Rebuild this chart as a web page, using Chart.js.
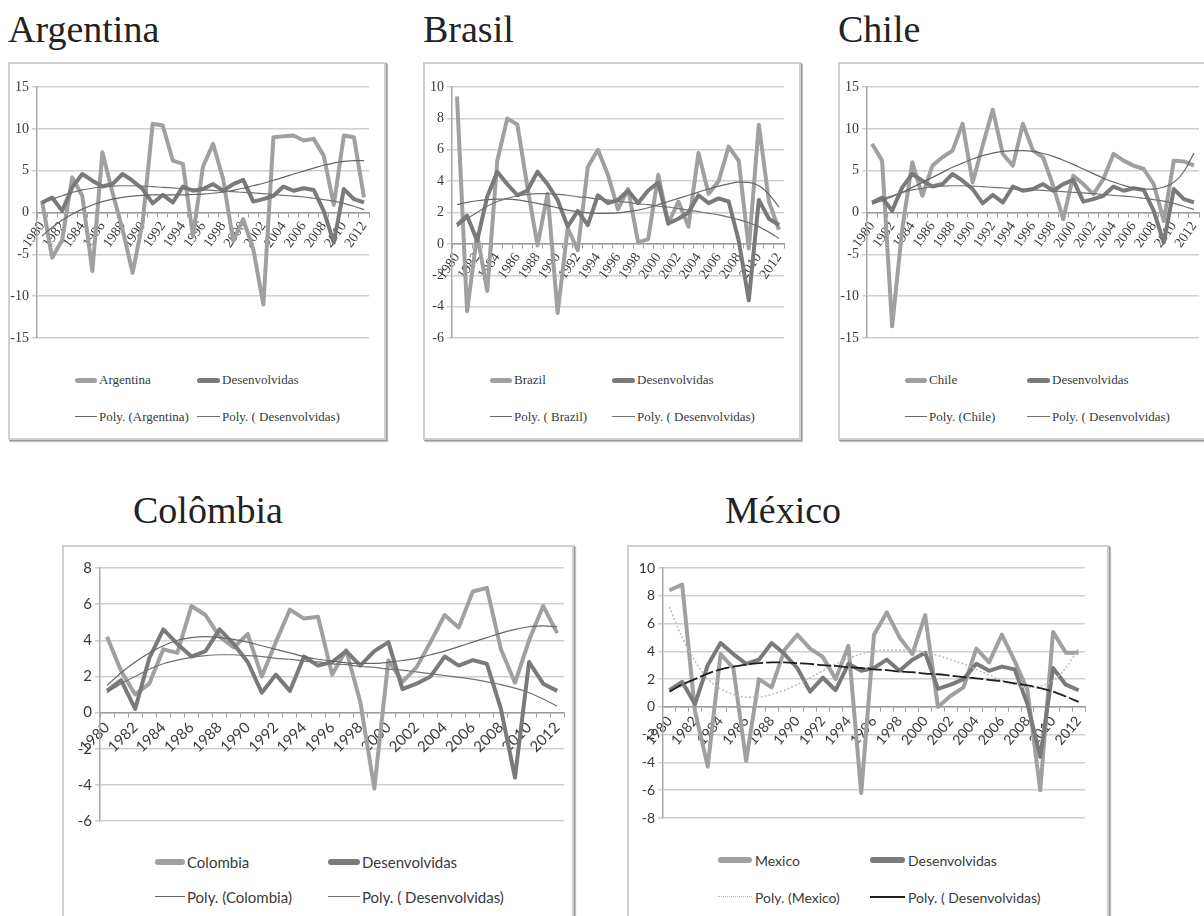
<!DOCTYPE html>
<html><head><meta charset="utf-8">
<script src="https://cdn.jsdelivr.net/npm/chart.js@4"></script>
<style>
body{margin:0;width:1204px;height:916px;overflow:hidden;background:#fff;position:relative;}
.title{position:absolute;font-family:'Liberation Serif',serif;font-size:38px;color:#222;line-height:38px;white-space:nowrap;}
.box{position:absolute;box-sizing:border-box;border:2px solid #cfcfcf;box-shadow:1px 1px 0 #9a9a9a,2px 2px 1px #c0c0c0;background:#fff;}
.box canvas{position:absolute;left:0;top:0;}
.leg{position:absolute;height:20px;margin-top:-10px;display:flex;align-items:center;white-space:nowrap;color:#3a3a3a;}
.mk{position:absolute;}
</style>
</head><body>
<script>
// ---------- data ----------
const years = ['1980','1981','1982','1983','1984','1985','1986','1987','1988','1989','1990','1991','1992','1993','1994','1995','1996','1997','1998','1999','2000','2001','2002','2003','2004','2005','2006','2007','2008','2009','2010','2011','2012'];

const desenvolvidas = [1.2,1.8,0.2,3.0,4.6,3.8,3.1,3.4,4.6,3.8,2.8,1.1,2.1,1.2,3.1,2.6,2.8,3.4,2.6,3.4,3.9,1.3,1.6,2.0,3.1,2.6,2.9,2.7,0.2,-3.6,2.8,1.6,1.2];
const polyDesenvolvidas = [1.1,1.6,2.0,2.4,2.7,2.9,3.05,3.15,3.2,3.2,3.15,3.1,3.0,2.95,2.85,2.8,2.7,2.65,2.55,2.5,2.4,2.35,2.25,2.15,2.05,1.95,1.85,1.7,1.55,1.35,1.1,0.75,0.35];

const argentina = [1.4,-5.4,-3.3,4.2,2.0,-7.0,7.2,2.4,-2.0,-7.2,-1.2,10.6,10.4,6.2,5.8,-2.8,5.5,8.2,4.0,-3.4,-0.8,-4.4,-11.0,9.0,9.1,9.2,8.6,8.8,6.8,0.9,9.2,9.0,1.8];
const polyArgentina = [-2.8,-1.8,-0.9,-0.2,0.4,0.9,1.3,1.6,1.8,1.95,2.05,2.1,2.1,2.1,2.1,2.15,2.2,2.3,2.45,2.65,2.9,3.2,3.5,3.85,4.2,4.6,4.95,5.3,5.65,5.9,6.1,6.2,6.2];

const brasil = [9.4,-4.3,0.6,-3.0,5.3,8.0,7.6,3.6,-0.1,3.2,-4.4,1.0,-0.4,4.9,6.0,4.4,2.2,3.5,0.1,0.3,4.4,1.3,2.7,1.1,5.8,3.2,4.0,6.2,5.3,-0.3,7.6,2.7,0.9];
const polyBrasil = [2.5,2.65,2.75,2.82,2.85,2.85,2.8,2.7,2.58,2.45,2.3,2.15,2.05,1.98,1.95,1.95,1.98,2.05,2.15,2.3,2.5,2.7,2.9,3.1,3.3,3.5,3.68,3.83,3.93,3.92,3.7,3.15,2.35];

const chile = [8.2,6.2,-13.6,-2.0,6.0,2.0,5.6,6.6,7.4,10.6,3.6,8.0,12.3,7.0,5.6,10.6,7.4,6.6,3.2,-0.8,4.4,3.4,2.2,4.0,7.0,6.2,5.6,5.2,3.4,-1.0,6.2,6.1,5.6];
const polyChile = [1.0,1.4,1.9,2.4,3.0,3.6,4.2,4.8,5.4,5.9,6.4,6.8,7.1,7.3,7.4,7.4,7.3,7.05,6.7,6.25,5.75,5.2,4.65,4.1,3.65,3.25,2.95,2.8,2.8,3.05,3.6,4.9,7.1];

const colombia = [4.2,2.3,1.0,1.6,3.5,3.3,5.9,5.4,4.2,3.6,4.35,2.0,3.9,5.7,5.2,5.3,2.1,3.45,0.6,-4.2,2.9,1.7,2.5,3.9,5.4,4.7,6.7,6.9,3.5,1.65,4.0,5.9,4.4];
const polyColombia = [1.5,2.2,2.8,3.3,3.7,4.0,4.15,4.2,4.15,4.05,3.9,3.7,3.5,3.3,3.1,2.95,2.85,2.75,2.72,2.72,2.78,2.88,3.0,3.2,3.4,3.65,3.9,4.15,4.4,4.6,4.75,4.8,4.75];

const mexico = [8.4,8.8,-0.3,-4.3,3.8,2.8,-3.9,2.0,1.4,4.1,5.2,4.2,3.6,2.0,4.4,-6.2,5.2,6.8,5.0,3.8,6.6,0.0,0.8,1.4,4.2,3.2,5.2,3.3,1.2,-6.0,5.4,3.9,3.9];
const polyMexico = [7.2,5.0,3.3,2.0,1.3,0.9,0.7,0.7,0.9,1.2,1.6,2.1,2.6,3.1,3.5,3.8,4.0,4.1,4.1,4.1,3.9,3.7,3.4,3.1,2.7,2.3,1.9,1.6,1.4,1.5,1.9,2.8,4.2];

// ---------- layout / style ----------
const SERIF = "'Liberation Serif', serif";
const SANS = "Lato, 'Open Sans', sans-serif";

const panels = [
  {title:'Argentina', tx:8, ty:10, name:'Argentina', values:argentina, poly:polyArgentina,
   box:[8,62,378,378], cw:374, ch:300, pad:{left:0,top:23,right:15,bottom:26}, yW:27,
   yr:[-15,15,5], font:SERIF, ySize:14, xSize:14, rot:55, legSize:13,
   leg:{r1:316,r2:353,m1:[65,87],t1:89,m2:[187,210],t2:212,thick:5}},
  {title:'Brasil', tx:423, ty:10, name:'Brazil', polyName:'Poly. ( Brazil)', values:brasil, poly:polyBrasil,
   box:[423,62,378,378], cw:374, ch:300, pad:{left:0,top:23,right:15,bottom:26}, yW:27,
   yr:[-6,10,2], font:SERIF, ySize:14, xSize:14, rot:55, legSize:13,
   leg:{r1:316,r2:353,m1:[65,87],t1:89,m2:[187,210],t2:212,thick:5}},
  {title:'Chile', tx:838, ty:10, name:'Chile', values:chile, poly:polyChile,
   box:[838,62,378,378], cw:374, ch:300, pad:{left:0,top:23,right:15,bottom:26}, yW:27,
   yr:[-15,15,5], font:SERIF, ySize:14, xSize:14, rot:55, legSize:13,
   leg:{r1:316,r2:353,m1:[65,87],t1:89,m2:[187,210],t2:212,thick:5}},
  {title:'Colômbia', tx:133, ty:491, name:'Colombia', values:colombia, poly:polyColombia,
   box:[62,545,512,420], cw:508, ch:300, pad:{left:0,top:21,right:5,bottom:26}, yW:36,
   yr:[-6,8,2], font:SANS, ySize:15, xSize:15, rot:45, legSize:15,
   leg:{r1:315,r2:350,m1:[91,121],t1:123,m2:[264,296],t2:298,thick:6}},
  {title:'México', tx:725, ty:491, name:'Mexico', values:mexico, poly:polyMexico, mexico:true,
   box:[627,545,482,420], cw:478, ch:300, pad:{left:0,top:21,right:22,bottom:29}, yW:34,
   yr:[-8,10,2], font:SANS, ySize:14, xSize:14, rot:50, legSize:14,
   leg:{r1:313,r2:350,m1:[89,123],t1:126,m2:[241,276],t2:279,thick:6}}
];

const COL_COUNTRY = '#a0a0a0';
const COL_DEV = '#7a7a7a';
const COL_POLY = '#666666';

function addLegend(box, p, row, m, tx, text, style){
  const mk = document.createElement('div');
  mk.className = 'mk';
  mk.style.left = m[0]+'px';
  mk.style.width = (m[1]-m[0])+'px';
  if (style.thick){
    mk.style.height = style.thick+'px';
    mk.style.top = (row - style.thick/2)+'px';
    mk.style.background = style.color;
    mk.style.borderRadius = (style.thick/2)+'px';
  } else {
    mk.style.height = '0px';
    mk.style.top = (row - 1)+'px';
    mk.style.borderTop = style.line;
  }
  box.appendChild(mk);
  const t = document.createElement('div');
  t.className = 'leg';
  t.style.left = tx+'px';
  t.style.top = row+'px';
  t.style.fontFamily = p.font;
  t.style.fontSize = p.legSize+'px';
  t.textContent = text;
  box.appendChild(t);
}

panels.forEach(p => {
  const title = document.createElement('div');
  title.className = 'title';
  title.style.left = p.tx+'px';
  title.style.top = p.ty+'px';
  title.textContent = p.title;
  document.body.appendChild(title);

  const box = document.createElement('div');
  box.className = 'box';
  box.style.left = p.box[0]+'px';
  box.style.top = p.box[1]+'px';
  box.style.width = p.box[2]+'px';
  box.style.height = p.box[3]+'px';
  document.body.appendChild(box);

  const cv = document.createElement('canvas');
  cv.width = p.cw; cv.height = p.ch;
  cv.style.width = p.cw+'px'; cv.style.height = p.ch+'px';
  box.appendChild(cv);

  const polyCountryStyle = p.mexico
    ? {borderColor:'#bdbdbd', borderWidth:1.5, borderDash:[2,2]}
    : {borderColor:COL_POLY, borderWidth:1.2};
  const polyDevStyle = p.mexico
    ? {borderColor:'#1e1e1e', borderWidth:1.8, borderDash:[14,3]}
    : {borderColor:'#727272', borderWidth:1.2};

  const polyLabel = p.polyName || ('Poly. ('+p.name+')');

  new Chart(cv, {
    type:'line',
    data:{
      labels: years,
      datasets:[
        Object.assign({label:polyLabel, data:p.poly, pointRadius:0, cubicInterpolationMode:'monotone', tension:0.4, order:1}, polyCountryStyle),
        Object.assign({label:'Poly. ( Desenvolvidas)', data:polyDesenvolvidas, pointRadius:0, cubicInterpolationMode:'monotone', tension:0.4, order:0}, polyDevStyle),
        {label:p.name, data:p.values, borderColor:COL_COUNTRY, borderWidth:4, pointRadius:0, tension:0, order:3, borderJoinStyle:'round'},
        {label:'Desenvolvidas', data:desenvolvidas, borderColor:COL_DEV, borderWidth:4, pointRadius:0, tension:0, order:2, borderJoinStyle:'round'}
      ]
    },
    options:{
      responsive:false, animation:false, devicePixelRatio:1,
      layout:{padding:p.pad},
      plugins:{legend:{display:false}, tooltip:{enabled:false}},
      scales:{
        x:{
          type:'category', position:{y:0}, offset:true,
          grid:{display:true, drawOnChartArea:false, drawTicks:true, tickLength:4, offset:true, color:'#9a9a9a'},
          border:{display:true, color:'#9a9a9a', width:1.5},
          ticks:{autoSkip:false, maxRotation:p.rot, minRotation:p.rot, padding:2,
                 font:{family:p.font, size:p.xSize}, color:'#3a3a3a',
                 callback:(v,i)=> (i%2===0 ? years[i] : '')}
        },
        y:{
          min:p.yr[0], max:p.yr[1],
          ticks:{stepSize:p.yr[2], font:{family:p.font, size:p.ySize}, color:'#3a3a3a', padding:3},
          grid:{color:'#cfcfcf', lineWidth:1.5, tickLength:5},
          border:{display:true, color:'#a8a8a8', width:1.5},
          afterFit:(s)=>{ s.width = p.yW; }
        }
      }
    }
  });

  const L = p.leg;
  addLegend(box, p, L.r1, L.m1, L.t1, p.name, {thick:L.thick, color:COL_COUNTRY});
  addLegend(box, p, L.r1, L.m2, L.t2, 'Desenvolvidas', {thick:L.thick, color:COL_DEV});
  addLegend(box, p, L.r2, L.m1, L.t1, polyLabel, {line: p.mexico ? '1.5px dotted #bdbdbd' : '1.5px solid '+COL_POLY});
  addLegend(box, p, L.r2, L.m2, L.t2, 'Poly. ( Desenvolvidas)', {line: p.mexico ? '2px solid #1e1e1e' : '1.5px solid #727272'});
});
</script>
</body></html>
